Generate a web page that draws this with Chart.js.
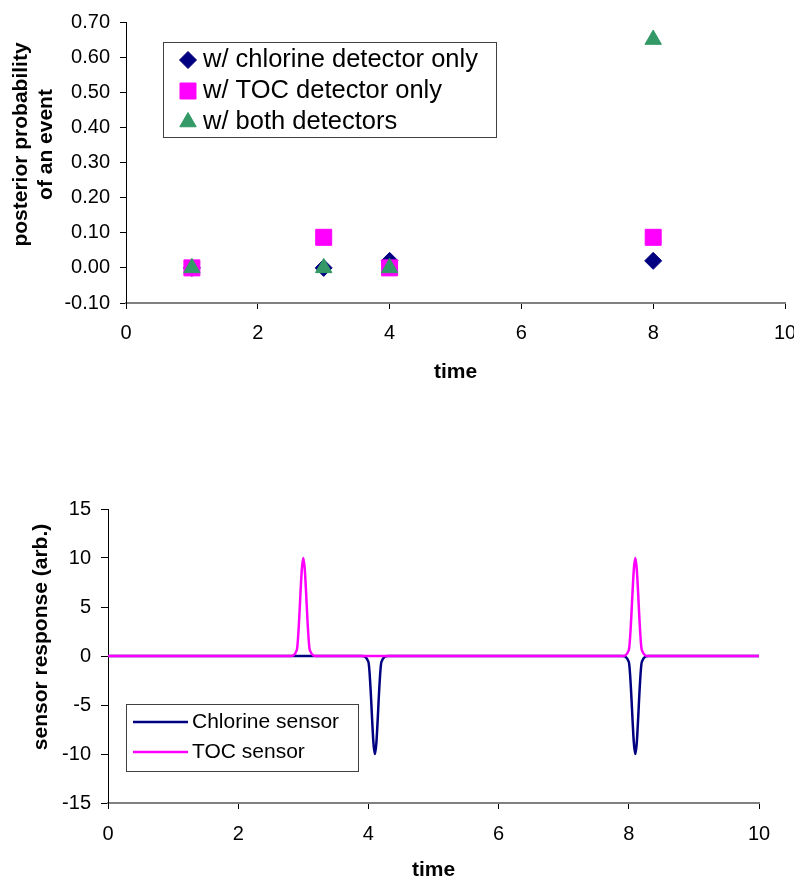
<!DOCTYPE html>
<html>
<head>
<meta charset="utf-8">
<script src="https://cdn.jsdelivr.net/npm/chart.js@4.4.0/dist/chart.umd.min.js"></script>
<style>
  html, body { margin: 0; padding: 0; background: #fff; overflow: hidden; width: 794px; height: 882px; }
  canvas { position: absolute; left: 0; }
  #probability-chart { top: 0; }
  #sensor-chart { top: 460px; }
</style>
</head>
<body>
<canvas id="probability-chart" width="820" height="400"></canvas>
<canvas id="sensor-chart" width="820" height="430"></canvas>
<script>
// top chart: posterior probability at the event times
const eventTimes = [1, 3, 4, 8];
const chlorineOnly = [0.00, 0.00, 0.02, 0.02];
const tocOnly = [0.00, 0.087, 0.00, 0.087];
const bothDetectors = [0.00, 0.00, 0.00, 0.65];

// bottom chart: sensor traces
const sensorTime = [0, 2.7, 2.8, 2.9, 3.0, 3.1, 3.2, 3.3, 3.9, 4.0, 4.1, 4.2, 4.3, 7.9, 8.0, 8.1, 8.2, 8.3, 10];
const chlorineSensor = [0, 0, 0, 0, 0, 0, 0, 0, 0, -0.6, -10, -0.6, 0, 0, -0.6, -10, -0.6, 0, 0];
const tocSensor = [0, 0, 0, 0.6, 10, 0.6, 0, 0, 0, 0, 0, 0, 0, 0, 0.6, 10, 0.6, 0, 0];

const xTicks = { min: 0, max: 10, step: 2 };

const FONT = '"Liberation Sans", Arial, sans-serif';
Chart.defaults.font.family = FONT;
Chart.defaults.color = '#000';

function toPoints(xs, ys) {
    return xs.map((x, i) => ({ x: x, y: ys[i] }));
}

// rotated y title, drawn a bit above the plot centre like the original
function yTitle(lines, xs, shift) {
    return {
        id: 'yTitle',
        afterDraw(chart) {
            const ctx = chart.ctx;
            const area = chart.chartArea;
            const cy = (area.top + area.bottom) / 2 + shift;
            ctx.save();
            ctx.font = 'bold 21px ' + FONT;
            ctx.fillStyle = '#000';
            ctx.textAlign = 'center';
            ctx.textBaseline = 'middle';
            lines.forEach((line, i) => {
                ctx.save();
                ctx.translate(xs[i], cy);
                ctx.rotate(-Math.PI / 2);
                ctx.fillText(line, 0, 0);
                ctx.restore();
            });
            ctx.restore();
        }
    };
}

// boxed legend inside the plot
function boxLegend(cfg) {
    return {
        id: 'boxLegend',
        afterDraw(chart) {
            const ctx = chart.ctx;
            ctx.save();
            ctx.fillStyle = '#fff';
            ctx.fillRect(cfg.left, cfg.top, cfg.width, cfg.height);
            ctx.strokeStyle = '#404040';
            ctx.lineWidth = 1;
            ctx.strokeRect(cfg.left + 0.5, cfg.top + 0.5, cfg.width, cfg.height);
            ctx.font = cfg.font;
            ctx.textBaseline = 'middle';
            ctx.textAlign = 'left';
            chart.data.datasets.forEach((ds, i) => {
                const y = cfg.rows[i];
                if (cfg.kind === 'point') {
                    ctx.fillStyle = ds.backgroundColor;
                    ctx.strokeStyle = ds.borderColor;
                    ctx.lineWidth = 1;
                    if (Chart.helpers && Chart.helpers.drawPoint) {
                        Chart.helpers.drawPoint(ctx, { pointStyle: ds.pointStyle, radius: ds.pointRadius, rotation: 0, borderWidth: 1 }, cfg.markerX, y);
                    }
                } else {
                    ctx.strokeStyle = ds.borderColor;
                    ctx.lineWidth = ds.borderWidth;
                    ctx.beginPath();
                    ctx.moveTo(cfg.lineFrom, y);
                    ctx.lineTo(cfg.lineTo, y);
                    ctx.stroke();
                }
                ctx.fillStyle = '#000';
                ctx.fillText(ds.label, cfg.textX, y);
            });
            ctx.restore();
        }
    };
}

function xScale(height, titlePad, labelPad) {
    return {
        type: 'linear',
        min: xTicks.min,
        max: xTicks.max,
        ticks: { stepSize: xTicks.step, font: { size: 20 }, padding: labelPad, color: '#000' },
        grid: { drawOnChartArea: false, tickLength: 6, tickColor: '#000', tickWidth: 1 },
        border: { color: '#808080', width: 2 },
        title: { display: true, text: 'time', font: { size: 21, weight: 'bold' }, padding: { top: 0, bottom: titlePad }, color: '#000' },
        afterFit: (s) => { s.height = height; }
    };
}

// ---- posterior probability chart ----
new Chart(document.getElementById('probability-chart'), {
    type: 'scatter',
    data: {
        datasets: [
            {
                label: 'w/ chlorine detector only',
                data: toPoints(eventTimes, chlorineOnly),
                pointStyle: 'rectRot',
                pointRadius: 8.5,
                backgroundColor: '#000080',
                borderColor: '#000080',
                clip: false,
                order: 3
            },
            {
                label: 'w/ TOC detector only',
                data: toPoints(eventTimes, tocOnly),
                pointStyle: 'rect',
                pointRadius: 11.3,
                backgroundColor: '#FF00FF',
                borderColor: '#FF00FF',
                clip: false,
                order: 2
            },
            {
                label: 'w/ both detectors',
                data: toPoints(eventTimes, bothDetectors),
                pointStyle: 'triangle',
                pointRadius: 9.5,
                backgroundColor: '#339966',
                borderColor: '#339966',
                clip: false,
                order: 1
            }
        ]
    },
    options: {
        responsive: false,
        animation: false,
        layout: { padding: { top: 17, right: 35, bottom: 0, left: 0 } },
        plugins: { legend: { display: false }, tooltip: { enabled: false } },
        scales: {
            x: xScale(97, 15, 12),
            y: {
                min: -0.1,
                max: 0.7,
                ticks: {
                    stepSize: 0.1, font: { size: 20 }, padding: 10, color: '#000',
                    callback: (v) => (Math.abs(v) < 1e-9 ? 0 : v).toFixed(2)
                },
                grid: { drawOnChartArea: false, tickLength: 6, tickColor: '#000', tickWidth: 1 },
                border: { color: '#000', width: 1 },
                afterFit: (s) => { s.width = 126; }
            }
        }
    },
    plugins: [
        yTitle(['posterior probability', 'of an event'], [21.6, 46.7], -18),
        boxLegend({ kind: 'point', left: 163, top: 42, width: 333, height: 95, rows: [60, 91, 122], markerX: 188, textX: 203, font: '25.5px ' + FONT })
    ]
});

// ---- sensor response chart ----
new Chart(document.getElementById('sensor-chart'), {
    type: 'line',
    data: {
        datasets: [
            {
                label: 'Chlorine sensor',
                data: toPoints(sensorTime, chlorineSensor),
                borderColor: '#000080',
                borderWidth: 2.5,
                pointRadius: 0,
                cubicInterpolationMode: 'monotone',
                fill: false,
                order: 1
            },
            {
                label: 'TOC sensor',
                data: toPoints(sensorTime, tocSensor),
                borderColor: '#FF00FF',
                borderWidth: 2.5,
                pointRadius: 0,
                cubicInterpolationMode: 'monotone',
                fill: false,
                order: 0
            }
        ]
    },
    options: {
        responsive: false,
        animation: false,
        layout: { padding: { top: 49, right: 61, bottom: 0, left: 0 } },
        plugins: { legend: { display: false }, tooltip: { enabled: false } },
        scales: {
            x: xScale(87, 7, 13),
            y: {
                min: -15,
                max: 15,
                ticks: { stepSize: 5, font: { size: 20 }, padding: 10, color: '#000' },
                grid: { drawOnChartArea: false, tickLength: 7, tickColor: '#000', tickWidth: 1 },
                border: { color: '#000', width: 1 },
                afterFit: (s) => { s.width = 108; }
            }
        }
    },
    plugins: [
        yTitle(['sensor response (arb.)'], [41], -19),
        boxLegend({ kind: 'line', left: 126, top: 244, width: 232, height: 67, rows: [262, 292], lineFrom: 133, lineTo: 188, textX: 192, font: '21px ' + FONT })
    ]
});
</script>
</body>
</html>
